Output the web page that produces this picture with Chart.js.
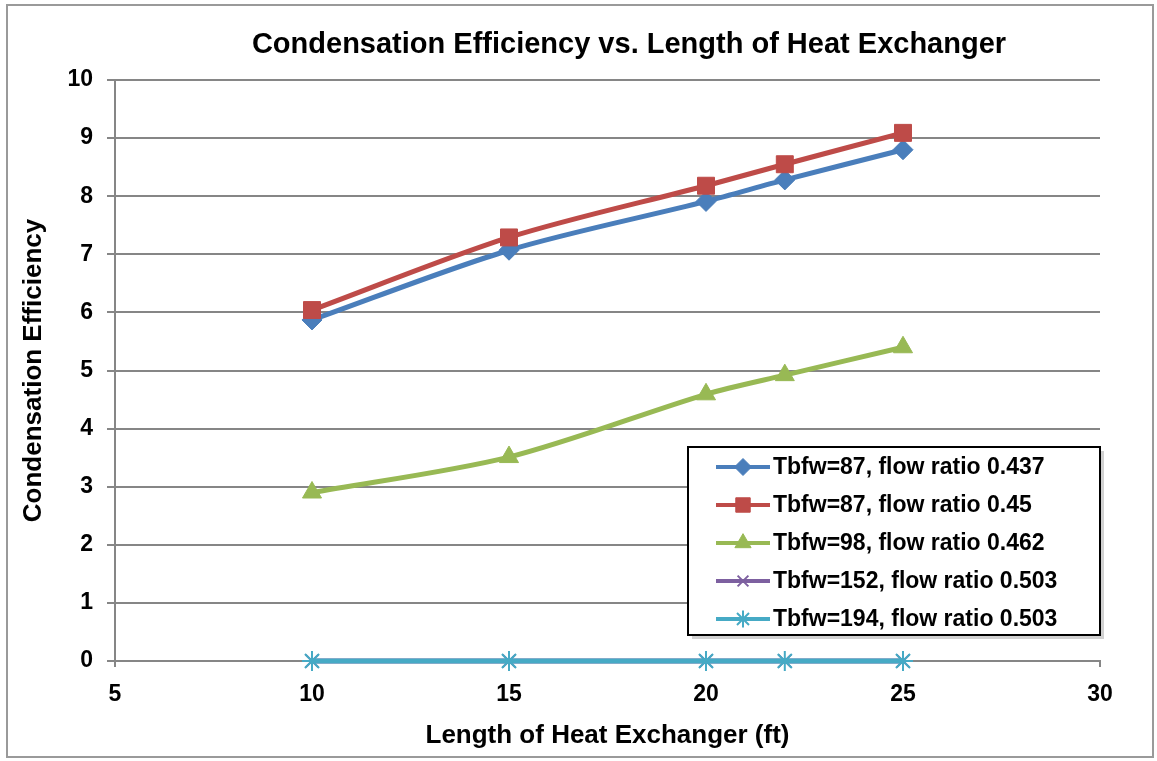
<!DOCTYPE html>
<html>
<head>
<meta charset="utf-8">
<script src="https://cdn.jsdelivr.net/npm/chart.js@4/dist/chart.umd.min.js"></script>
<style>
  html, body { margin: 0; padding: 0; background: #fff; }
  #wrap { width: 1157px; height: 761px; }
</style>
</head>
<body>
<div id="wrap"><canvas id="effChart" width="1157" height="761"></canvas></div>
<script>
const FONT = "'Liberation Sans', Arial, sans-serif";

// heat exchanger lengths (ft)
const lengths = [10, 15, 20, 22, 25];

const seriesLabels = [
  'Tbfw=87, flow ratio 0.437',
  'Tbfw=87, flow ratio 0.45',
  'Tbfw=98, flow ratio 0.462',
  'Tbfw=152, flow ratio 0.503',
  'Tbfw=194, flow ratio 0.503'
];

const eff87a = [5.87, 7.07, 7.91, 8.28, 8.80];
const eff87b = [6.04, 7.29, 8.18, 8.55, 9.09];
const eff98 = [2.90, 3.51, 4.59, 4.92, 5.40];
const eff152 = [0, 0, 0, 0, 0];
const eff194 = [0, 0, 0, 0, 0];

const xTicks = [5, 10, 15, 20, 25, 30];
const yTicks = [0, 1, 2, 3, 4, 5, 6, 7, 8, 9, 10];

const colors = ['#4A7EBB', '#BE4B48', '#98B954', '#7D60A0', '#46AAC5'];
const markers = ['rectRot', 'rect', 'triangle', 'crossRot', 'star'];
const markerSize = [10, 12, 11, 9, 10];

function pts(vals) {
  return vals.map((v, i) => ({ x: lengths[i], y: v }));
}

const allSeries = [eff87a, eff87b, eff98, eff152, eff194];

const datasets = allSeries.map((vals, i) => ({
  label: seriesLabels[i],
  data: pts(vals),
  order: allSeries.length - i, // later series sit on top
  borderColor: colors[i],
  backgroundColor: colors[i],
  borderWidth: 5,
  tension: 0.3,
  pointStyle: markers[i],
  pointRadius: markerSize[i],
  pointBorderWidth: (i >= 3) ? 2 : 1,
  pointBorderColor: colors[i],
  pointBackgroundColor: colors[i],
  clip: false
}));

// frame + title drawn straight on the canvas
const framePlugin = {
  id: 'frame',
  beforeDraw(chart) {
    const c = chart.ctx;
    c.save();
    c.fillStyle = '#fff';
    c.fillRect(0, 0, chart.width, chart.height);
    c.strokeStyle = '#9a9a9a';
    c.lineWidth = 2;
    c.strokeRect(7, 5, 1146, 752);
    c.fillStyle = '#000';
    c.font = 'bold 29px ' + FONT;
    c.textAlign = 'center';
    c.textBaseline = 'middle';
    c.fillText('Condensation Efficiency vs. Length of Heat Exchanger', 629, 45);
    c.restore();
  }
};

// boxed legend sitting inside the plot
const boxLegend = {
  id: 'boxLegend',
  afterDraw(chart) {
    const c = chart.ctx;
    const x = 688, y = 447, w = 412, h = 188;
    c.save();
    c.fillStyle = 'rgba(0,0,0,0.18)';
    c.fillRect(x + 4, y + 4, w, h);
    c.fillStyle = '#fff';
    c.fillRect(x, y, w, h);
    c.strokeStyle = '#000';
    c.lineWidth = 2;
    c.strokeRect(x, y, w, h);
    c.font = 'bold 23px ' + FONT;
    c.textBaseline = 'middle';
    c.textAlign = 'left';
    chart.data.datasets.forEach((ds, i) => {
      const cy = y + 20 + i * 38;
      c.strokeStyle = ds.borderColor;
      c.lineWidth = 4;
      c.beginPath();
      c.moveTo(716, cy);
      c.lineTo(770, cy);
      c.stroke();
      c.fillStyle = ds.borderColor;
      c.lineWidth = ds.pointBorderWidth;
      Chart.helpers.drawPoint(c, {
        pointStyle: ds.pointStyle,
        radius: ds.pointRadius * 0.85,
        rotation: 0,
        borderWidth: ds.pointBorderWidth
      }, 743, cy);
      c.fillStyle = '#000';
      c.fillText(ds.label, 773, cy + 1);
    });
    c.restore();
  }
};

const config = {
  type: 'line',
  data: { datasets: datasets },
  options: {
    responsive: false,
    animation: false,
    layout: { padding: { left: 8, top: 80, right: 57, bottom: 0 } },
    plugins: {
      legend: { display: false },
      title: { display: false },
      tooltip: { enabled: false }
    },
    scales: {
      x: {
        type: 'linear',
        min: 5,
        max: 30,
        afterBuildTicks(axis) {
          axis.ticks = xTicks.map(v => ({ value: v }));
        },
        afterFit(axis) { axis.height = 100; },
        grid: { drawOnChartArea: false, drawTicks: true, tickLength: 6, color: '#868686', lineWidth: 2 },
        border: { color: '#868686', width: 2 },
        ticks: {
          padding: 14,
          color: '#000',
          font: { family: FONT, size: 23, weight: 'bold' }
        },
        title: {
          display: true,
          text: 'Length of Heat Exchanger (ft)',
          color: '#000',
          font: { family: FONT, size: 26, weight: 'bold' },
          padding: { top: 0, bottom: 10 }
        }
      },
      y: {
        type: 'linear',
        min: 0,
        max: 10,
        afterBuildTicks(axis) {
          axis.ticks = yTicks.map(v => ({ value: v }));
        },
        afterFit(axis) { axis.width = 107; },
        grid: { color: '#868686', lineWidth: 2, tickLength: 8 },
        border: { color: '#868686', width: 2 },
        ticks: {
          padding: 14,
          color: '#000',
          font: { family: FONT, size: 23, weight: 'bold' }
        },
        title: {
          display: true,
          text: 'Condensation Efficiency',
          color: '#000',
          font: { family: FONT, size: 26, weight: 'bold' },
          padding: { top: 10, bottom: 0 }
        }
      }
    }
  },
  plugins: [framePlugin, boxLegend]
};

const ctx = document.getElementById('effChart').getContext('2d');
const effChart = new Chart(ctx, config);
</script>
</body>
</html>
